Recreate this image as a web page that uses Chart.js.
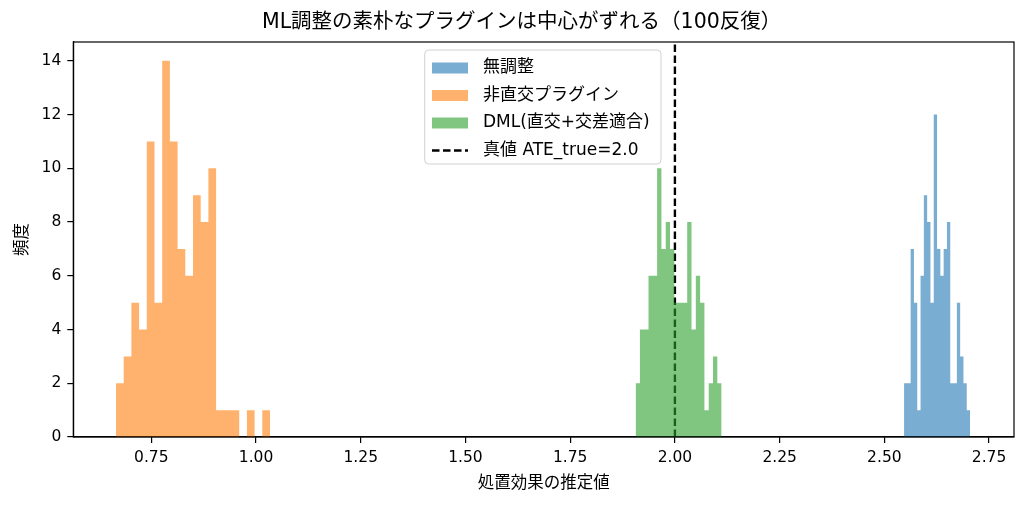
<!DOCTYPE html>
<html>
<head>
<meta charset="utf-8">
<script src="https://cdn.jsdelivr.net/npm/chart.js@4.4.1/dist/chart.umd.min.js"></script>
<style>
  html, body { margin: 0; padding: 0; background: #fff; }
  canvas { display: block; }
</style>
</head>
<body>
<canvas id="c" width="1025" height="506" style="width:1025px;height:506px"></canvas>
<script>
// ---- data ----
const titleText = 'ML調整の素朴なプラグインは中心がずれる（100反復）';
const xLabel = '処置効果の推定値';
const yLabel = '頻度';
const seriesLabels = ['無調整', '非直交プラグイン', 'DML(直交+交差適合)'];
const trueLabel = '真値 ATE_true=2.0';
const ateTrue = 2.0;

// histogram bin ranges [first edge, last edge] (20 bins each)
const unadjustedRange = [2.547, 2.7046];
const naiveRange = [0.6657, 1.0334];
const dmlRange = [1.9062, 2.1115];

// counts per bin
const unadjustedCounts = [2, 2, 7, 5, 1, 6, 9, 8, 5, 12, 7, 6, 7, 8, 2, 2, 5, 3, 2, 1];
const naiveCounts = [2, 3, 5, 4, 11, 5, 14, 11, 7, 6, 9, 8, 10, 1, 1, 1, 0, 1, 0, 1];
const dmlCounts = [2, 4, 4, 6, 6, 10, 7, 8, 7, 5, 5, 5, 8, 4, 6, 5, 1, 2, 3, 2];

const xTicks = [0.75, 1.00, 1.25, 1.50, 1.75, 2.00, 2.25, 2.50, 2.75];
const yTicks = [0, 2, 4, 6, 8, 10, 12, 14];
const xLimits = [0.5638, 2.8095];
const yLimits = [0, 14.7];

// ---- styles ----
const colors = ['rgba(31,119,180,0.6)', 'rgba(255,127,14,0.6)', 'rgba(44,160,44,0.6)'];
const FONT = '"DejaVu Sans", "Noto Sans CJK JP", sans-serif';

// histogram outline as polygon vertices (bin edges derived from range and bin count)
function histPoints(range, counts) {
  const n = counts.length;
  const w = (range[1] - range[0]) / n;
  const pts = [{ x: range[0], y: 0 }];
  for (let i = 0; i < n; i++) {
    const l = range[0] + i * w, r = range[0] + (i + 1) * w;
    pts.push({ x: l, y: counts[i] });
    pts.push({ x: r, y: counts[i] });
  }
  pts.push({ x: range[1], y: 0 });
  return pts;
}

function histDataset(label, range, counts, color) {
  return {
    type: 'line', label, data: histPoints(range, counts),
    backgroundColor: color, borderColor: color, borderWidth: 0,
    fill: 'origin', pointRadius: 0, tension: 0
  };
}

const decorPlugin = {
  id: 'decor',
  afterDatasetsDraw(chart) {
    const { ctx, chartArea: a } = chart;
    ctx.save();
    ctx.strokeStyle = '#000';
    ctx.lineWidth = 1.2;
    ctx.strokeRect(a.left, a.top, a.right - a.left, a.bottom - a.top);
    ctx.restore();
  },
  afterDraw(chart) {
    const { ctx, chartArea: a } = chart;
    ctx.save();
    ctx.fillStyle = '#000';
    // title
    ctx.font = '20.5px ' + FONT;
    ctx.textAlign = 'left';
    ctx.textBaseline = 'middle';
    ctx.fillText(titleText, 262, 23);
    // x label
    ctx.font = '16.5px ' + FONT;
    ctx.textAlign = 'center';
    ctx.fillText(xLabel, (a.left + a.right) / 2, 484);
    // y label
    ctx.save();
    ctx.translate(23, (a.top + a.bottom) / 2);
    ctx.rotate(-Math.PI / 2);
    ctx.fillText(yLabel, 0, 0);
    ctx.restore();

    // legend
    const lx = 424.7, ly = 50, lw = 236.3, lh = 114;
    ctx.beginPath();
    if (ctx.roundRect) ctx.roundRect(lx, ly, lw, lh, 4); else ctx.rect(lx, ly, lw, lh);
    ctx.fillStyle = 'rgba(255,255,255,0.8)';
    ctx.fill();
    ctx.strokeStyle = 'rgba(204,204,204,0.9)';
    ctx.lineWidth = 1;
    ctx.stroke();
    const rows = [68, 95.5, 123, 150.5];
    ctx.font = '17px ' + FONT;
    ctx.textAlign = 'left';
    ctx.textBaseline = 'middle';
    for (let i = 0; i < 3; i++) {
      ctx.fillStyle = colors[i];
      ctx.fillRect(432, rows[i] - 5.5, 36, 11);
      ctx.fillStyle = '#000';
      ctx.fillText(seriesLabels[i], 483, rows[i]);
    }
    ctx.strokeStyle = '#000';
    ctx.lineWidth = 2.4;
    ctx.setLineDash([7.5, 3.5]);
    ctx.beginPath();
    ctx.moveTo(432, rows[3]);
    ctx.lineTo(468, rows[3]);
    ctx.stroke();
    ctx.setLineDash([]);
    ctx.fillStyle = '#000';
    ctx.fillText(trueLabel, 483, rows[3]);
    ctx.restore();
  }
};

const tickFont = { family: FONT, size: 15.5 };

new Chart(document.getElementById('c'), {
  type: 'line',
  data: {
    datasets: [
      histDataset(seriesLabels[0], unadjustedRange, unadjustedCounts, colors[0]),
      histDataset(seriesLabels[1], naiveRange, naiveCounts, colors[1]),
      histDataset(seriesLabels[2], dmlRange, dmlCounts, colors[2]),
      {
        type: 'line', label: trueLabel,
        data: [{ x: ateTrue, y: yLimits[0] }, { x: ateTrue, y: yLimits[1] }],
        borderColor: '#000', borderWidth: 2.4, borderDash: [7.5, 3.5],
        pointRadius: 0, fill: false
      }
    ]
  },
  options: {
    responsive: false,
    animation: false,
    devicePixelRatio: 1,
    layout: { padding: { top: 42, right: 11, left: 0, bottom: 0 } },
    plugins: { legend: { display: false }, title: { display: false }, tooltip: { enabled: false } },
    scales: {
      x: {
        type: 'linear', min: xLimits[0], max: xLimits[1],
        afterBuildTicks: s => { s.ticks = xTicks.map(v => ({ value: v })); },
        afterFit: s => { s.height = 69; },
        ticks: { callback: v => Number(v).toFixed(2), font: tickFont, color: '#000', padding: 6, maxRotation: 0, autoSkip: false },
        grid: { drawOnChartArea: false, drawTicks: true, tickLength: 6, color: '#000', lineWidth: 1.2 },
        border: { display: true, color: '#000', width: 1.2 }
      },
      y: {
        type: 'linear', min: yLimits[0], max: yLimits[1],
        afterBuildTicks: s => { s.ticks = yTicks.map(v => ({ value: v })); },
        afterFit: s => { s.width = 73.3; },
        ticks: { callback: v => String(v), font: tickFont, color: '#000', padding: 6, autoSkip: false },
        grid: { drawOnChartArea: false, drawTicks: true, tickLength: 6, color: '#000', lineWidth: 1.2 },
        border: { display: true, color: '#000', width: 1.2 }
      }
    }
  },
  plugins: [decorPlugin]
});
</script>
</body>
</html>
